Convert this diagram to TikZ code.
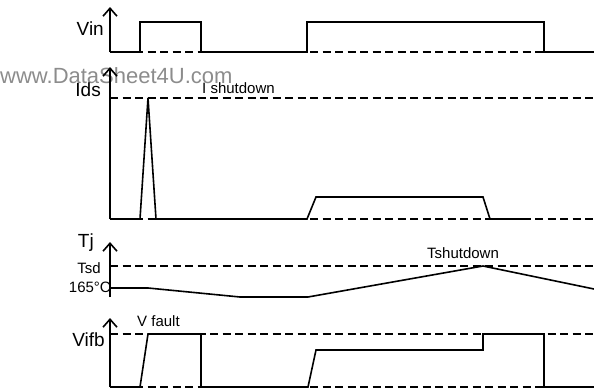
\documentclass[tikz,border=0pt]{standalone}
\usepackage{fontspec}
\setmainfont{Liberation Sans}
\usetikzlibrary{arrows.meta}
\tikzset{
  wave/.style={line width=1.6pt,line join=miter},
  level line/.style={line width=1.4pt,dash pattern=on 8pt off 4.5pt},
  axis/.style={line width=1.6pt,-{Straight Barb[length=8pt,width=14pt,line width=1.6pt]}},
  big label/.style={inner sep=0pt,font=\fontsize{19}{19}\selectfont},
  small label/.style={inner sep=0pt,font=\fontsize{15}{15}\selectfont}
}
\begin{document}
\begin{tikzpicture}[x=1pt,y=-1pt]
  \useasboundingbox (0,0) rectangle (594,388);
  % watermark
  \node [inner sep=0pt,anchor=base west,text=black!45,font=\fontsize{22}{22}\selectfont] (mark) at (0,83) {www.DataSheet4U.com};

  % Vin
  \coordinate (vin o) at (110,52);
  \node [big label,anchor=base east] (vin) at (104,35) {Vin};
  \draw [level line] (vin o) -- (594,52);
  \draw [wave] (vin o) -- (140,52) -- (140,22) -- (201,22) -- (201,52) -- (307,52)
    -- (307,22) -- (544,22) -- (544,52) -- (594,52);
  \draw [axis] (vin o) -- (110,7);

  % Ids
  \coordinate (ids o) at (110,219);
  \node [big label,anchor=base east] (ids) at (101,96) {Ids};
  \node [small label,anchor=base west] (ishut) at (202,93) {I shutdown};
  \draw [level line] (110,98) -- (594,98);
  \draw [level line] (ids o) -- (594,219);
  \draw [wave] (ids o) -- (140,219) -- (148,98) -- (156,219) -- (307,219)
    -- (316,197) -- (483,197) -- (490,219) -- (530,219);
  \draw [axis] (ids o) -- (110,67);

  % Tj
  \coordinate (tj o) at (110,297);
  \node [big label,anchor=base east] (tj) at (94,247) {Tj};
  \node [small label,anchor=base east] (tsd) at (101,273) {Tsd};
  \node [small label,anchor=base east] (deg) at (111,292) {165°C};
  \node [small label,anchor=base] (tshut) at (463,258) {Tshutdown};
  \draw [level line] (110,266) -- (594,266);
  \draw [wave] (110,288) -- (148,288) -- (240,297) -- (308,297) -- (483,266) -- (594,289);
  \draw [axis] (tj o) -- (110,242);

  % Vifb
  \coordinate (vifb o) at (110,387);
  \node [big label,anchor=base east] (vifb) at (105,346) {Vifb};
  \node [small label,anchor=base west] (vfault) at (137,326) {V fault};
  \draw [level line] (110,334) -- (594,334);
  \draw [level line] (vifb o) -- (594,387);
  \draw [wave] (vifb o) -- (140,387) -- (148,334) -- (201,334) -- (201,387) -- (308,387)
    -- (316,350) -- (483,350) -- (483,334) -- (544,334) -- (544,387) -- (594,387);
  \draw [axis] (vifb o) -- (110,318);
\end{tikzpicture}
\end{document}
